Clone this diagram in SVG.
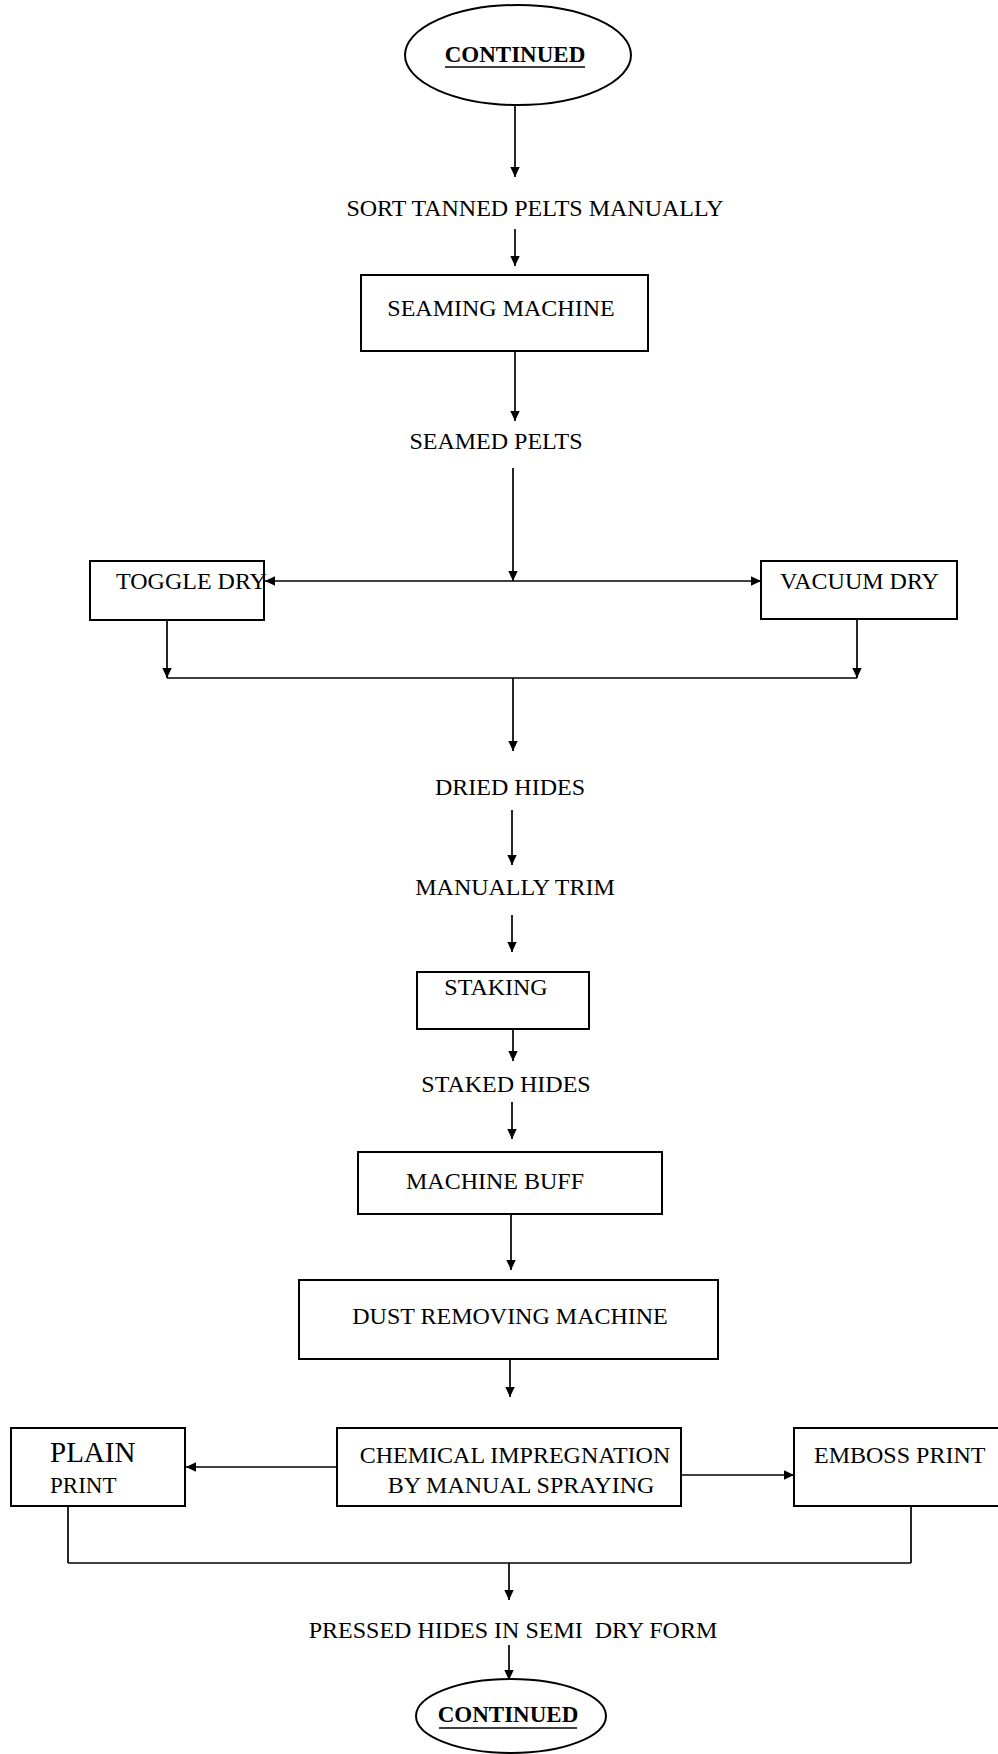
<svg xmlns="http://www.w3.org/2000/svg" width="998" height="1754" viewBox="0 0 998 1754">
<defs>
<style>
text{font-family:"Liberation Serif","Times New Roman",serif;font-size:24px;fill:#000}
.c{text-anchor:middle}
.b{font-weight:bold;font-size:23px}
.box{fill:#fff;stroke:#000;stroke-width:2}
.ln{fill:none;stroke:#000;stroke-width:1.7}
.ar{fill:none;stroke:#000;stroke-width:1.7;marker-end:url(#ah)}
</style>
<marker id="ah" markerWidth="12" markerHeight="12" refX="10" refY="5.5" orient="auto" markerUnits="userSpaceOnUse">
<path d="M0,0.8 L10,5.5 L0,10.2 Z" fill="#000"/>
</marker>
</defs>
<rect width="998" height="1754" fill="#fff"/>
<g id="connectors">
<line class="ar" x1="515" y1="104" x2="515" y2="177"/>
<line class="ar" x1="515" y1="229" x2="515" y2="266"/>
<line class="ar" x1="515" y1="352" x2="515" y2="421"/>
<line class="ar" x1="513" y1="468" x2="513" y2="581"/>
<line class="ar" x1="513" y1="581" x2="265" y2="581"/>
<line class="ar" x1="513" y1="581" x2="761" y2="581"/>
<line class="ar" x1="167" y1="620" x2="167" y2="678"/>
<line class="ar" x1="857" y1="620" x2="857" y2="678"/>
<line class="ln" x1="167" y1="678" x2="857" y2="678"/>
<line class="ar" x1="513" y1="678" x2="513" y2="751"/>
<line class="ar" x1="512" y1="810" x2="512" y2="865"/>
<line class="ar" x1="512" y1="915" x2="512" y2="952"/>
<line class="ar" x1="513" y1="1024" x2="513" y2="1061"/>
<line class="ar" x1="512" y1="1102" x2="512" y2="1139"/>
<line class="ar" x1="511" y1="1215" x2="511" y2="1270"/>
<line class="ar" x1="510" y1="1360" x2="510" y2="1397"/>
<line class="ar" x1="337" y1="1467" x2="186" y2="1467"/>
<line class="ar" x1="681" y1="1475" x2="794" y2="1475"/>
<line class="ln" x1="68" y1="1506" x2="68" y2="1563"/>
<line class="ln" x1="911" y1="1506" x2="911" y2="1563"/>
<line class="ln" x1="68" y1="1563" x2="911" y2="1563"/>
<line class="ar" x1="509" y1="1563" x2="509" y2="1600"/>
<line class="ar" x1="509" y1="1645" x2="509" y2="1680"/>
</g>
<g id="continued-top">
<ellipse cx="518" cy="55" rx="113" ry="50" fill="#fff" stroke="#000" stroke-width="2"/>
<text class="c b" x="515" y="62">CONTINUED</text>
<line x1="445" y1="67" x2="585" y2="67" stroke="#000" stroke-width="1.5"/>
</g>
<g id="sort"><text class="c" x="535" y="216">SORT TANNED PELTS MANUALLY</text></g>
<g id="seaming"><rect class="box" x="361" y="275" width="287" height="76"/><text class="c" x="501" y="316">SEAMING MACHINE</text></g>
<g id="seamed"><text class="c" x="496" y="449">SEAMED PELTS</text></g>
<g id="toggle"><rect class="box" x="90" y="561" width="174" height="59"/><text x="116" y="589">TOGGLE DRY</text></g>
<g id="vacuum"><rect class="box" x="761" y="561" width="196" height="58"/><text x="780" y="589">VACUUM DRY</text></g>
<g id="dried"><text class="c" x="510" y="795">DRIED HIDES</text></g>
<g id="trim"><text class="c" x="515" y="895">MANUALLY TRIM</text></g>
<g id="staking"><rect class="box" x="417" y="972" width="172" height="57"/><text class="c" x="496" y="995">STAKING</text></g>
<g id="staked"><text class="c" x="506" y="1092">STAKED HIDES</text></g>
<g id="buff"><rect class="box" x="358" y="1152" width="304" height="62"/><text class="c" x="495" y="1189">MACHINE BUFF</text></g>
<g id="dust"><rect class="box" x="299" y="1280" width="419" height="79"/><text class="c" x="510" y="1324">DUST REMOVING MACHINE</text></g>
<g id="plain"><rect class="box" x="11" y="1428" width="174" height="78"/><text x="50" y="1462" style="font-size:29px">PLAIN</text><text x="50" y="1493" style="font-size:23px">PRINT</text></g>
<g id="chem"><rect class="box" x="337" y="1428" width="344" height="78"/><text class="c" x="515" y="1463">CHEMICAL IMPREGNATION</text><text class="c" x="521" y="1493">BY MANUAL SPRAYING</text></g>
<g id="emboss"><rect class="box" x="794" y="1428" width="210" height="78"/><text x="814" y="1463">EMBOSS PRINT</text></g>
<g id="pressed"><text class="c" x="513" y="1638" xml:space="preserve">PRESSED HIDES IN SEMI  DRY FORM</text></g>
<g id="continued-bottom">
<ellipse cx="511" cy="1716" rx="95" ry="37" fill="#fff" stroke="#000" stroke-width="2"/>
<text class="c b" x="508" y="1722">CONTINUED</text>
<line x1="439" y1="1728" x2="577" y2="1728" stroke="#000" stroke-width="1.5"/>
</g>
</svg>
